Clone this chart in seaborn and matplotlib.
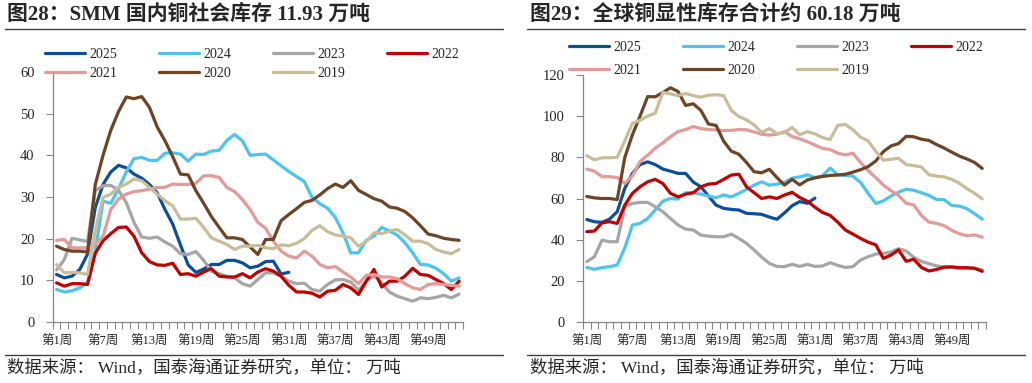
import numpy as np
import seaborn as sns
import matplotlib.pyplot as plt
from matplotlib.lines import Line2D

years = ['2025', '2024', '2023', '2022', '2021', '2020', '2019']
colors = ['#0b4f9c', '#4dc3f0', '#a6a6a6', '#c00000', '#e39a98', '#6e4424', '#c9bd99']
week_ticks = [1, 7, 13, 19, 25, 31, 37, 43, 49]
week_labels = ['第%d周' % w for w in week_ticks]

# 图28 SMM 国内铜社会库存 (万吨, 按周)
smm_2025 = [11.4, 10.6, 11.0, 12.6, 16.3, 27.5, 33.0, 36.0, 37.6, 37.0, 35.5, 34.5, 33.0, 31.0, 27.0,
            23.5, 18.5, 13.7, 11.9, 12.7, 13.8, 13.8, 14.8, 14.8, 14.2, 13.0, 13.4, 14.5, 14.6, 11.5, 11.93]
smm_2024 = [7.8, 7.2, 7.5, 8.2, 9.5, 17.0, 29.0, 28.5, 32.0, 36.0, 39.2, 39.5, 38.8, 38.8, 40.5, 40.6,
            40.3, 38.6, 40.3, 40.2, 41.0, 41.2, 43.6, 45.0, 43.5, 40.0, 40.2, 40.3, 38.9, 37.5, 36.1, 34.9,
            33.7, 29.9, 28.4, 27.3, 25.1, 21.4, 16.6, 16.6, 19.6, 20.6, 22.7, 21.8, 20.9, 19.0, 16.6, 13.8,
            13.7, 12.9, 11.6, 9.8, 10.6]
smm_2023 = [12.5, 15.0, 20.1, 19.7, 19.3, 31.5, 32.7, 32.8, 31.6, 28.7, 23.9, 20.4, 20.1, 20.4, 19.2,
            18.2, 16.4, 16.2, 16.9, 14.8, 12.2, 11.6, 11.0, 10.6, 9.2, 8.6, 10.2, 11.8, 11.8, 11.0, 9.8,
            9.2, 9.3, 7.8, 7.4, 9.0, 10.1, 10.2, 9.6, 7.6, 9.8, 11.0, 9.4, 7.2, 6.2, 5.6, 5.0, 5.8, 5.6,
            5.9, 6.4, 5.8, 6.7]
smm_2022 = [9.4, 8.6, 9.2, 9.2, 9.0, 16.5, 19.5, 21.2, 22.7, 22.8, 20.6, 16.6, 14.5, 13.7, 13.6, 14.1,
            11.4, 11.6, 11.0, 12.0, 12.8, 11.0, 10.8, 10.8, 11.6, 10.6, 12.0, 12.8, 12.2, 11.0, 8.8, 7.2,
            7.2, 6.9, 6.0, 7.4, 7.6, 9.0, 8.2, 6.6, 9.8, 12.6, 8.4, 9.8, 9.8, 11.0, 12.9, 11.4, 11.2, 10.2,
            9.2, 7.8, 9.8]
smm_2021 = [19.6, 19.8, 17.8, 17.8, 17.8, 18.6, 20.5, 27.0, 29.5, 30.7, 31.3, 31.5, 31.9, 32.3, 32.3,
            33.1, 33.0, 33.0, 33.3, 35.1, 35.1, 34.7, 32.3, 31.3, 29.4, 27.0, 23.9, 22.5, 19.4, 17.0, 15.8,
            15.4, 17.0, 15.8, 13.8, 13.0, 13.3, 12.0, 10.8, 9.2, 11.2, 11.4, 10.8, 10.8, 10.4, 9.2, 8.2,
            7.8, 9.0, 9.2, 9.0, 8.8, 8.6]
smm_2020 = [18.2, 17.4, 17.0, 17.0, 16.8, 33.0, 40.0, 46.0, 50.5, 54.0, 53.6, 54.1, 51.5, 46.8, 43.5,
            39.7, 35.5, 35.3, 31.5, 28.5, 25.3, 22.7, 20.2, 20.2, 19.8, 18.0, 16.2, 19.8, 19.8, 24.3, 25.8,
            27.2, 28.7, 29.2, 30.5, 32.0, 33.1, 32.3, 33.9, 31.6, 30.6, 29.6, 29.0, 27.6, 27.3, 26.5, 25.0,
            23.1, 21.1, 20.7, 20.1, 19.8, 19.6]
smm_2019 = [13.8, 11.8, 11.9, 11.8, 11.4, 22.0, 29.9, 30.7, 32.3, 33.1, 34.3, 33.9, 32.3, 30.7, 29.1,
            27.9, 24.7, 24.7, 24.9, 22.7, 20.2, 19.4, 18.6, 17.4, 18.2, 18.2, 18.4, 17.8, 17.6, 18.5, 18.3,
            18.9, 20.0, 22.0, 23.1, 21.7, 20.9, 20.6, 20.2, 18.2, 19.3, 21.4, 21.2, 21.8, 22.2, 20.9, 19.4,
            19.4, 18.8, 17.4, 16.8, 16.4, 17.4]

# 图29 全球铜显性库存合计 (万吨, 按周)
gl_2025 = [49.8, 48.7, 48.4, 50.0, 53.6, 65.0, 72.2, 76.5, 77.8, 76.5, 74.3, 73.3, 72.2, 72.2, 68.0,
           65.7, 61.2, 56.8, 55.2, 54.7, 54.4, 52.8, 52.6, 52.3, 51.0, 49.9, 53.0, 56.5, 58.5, 57.7, 60.18]
gl_2024 = [26.5, 25.6, 26.4, 26.9, 27.7, 36.0, 47.1, 47.9, 50.3, 54.4, 58.7, 60.0, 59.7, 62.8, 62.8,
           62.1, 61.2, 60.4, 61.7, 60.8, 62.5, 64.4, 66.5, 68.1, 66.5, 67.0, 67.8, 69.9, 70.5, 71.5, 70.2,
           71.0, 74.8, 71.5, 71.2, 70.9, 67.8, 62.5, 57.6, 58.8, 61.2, 63.1, 64.5, 64.0, 62.8, 61.5, 59.5,
           59.4, 56.6, 56.3, 55.0, 52.6, 50.0]
gl_2023 = [29.3, 31.7, 39.8, 39.0, 39.0, 56.0, 57.6, 58.1, 58.1, 56.0, 53.6, 50.3, 47.1, 45.1, 44.7,
           42.2, 41.7, 41.4, 41.4, 42.7, 40.6, 38.2, 35.0, 31.5, 28.5, 27.0, 26.9, 28.0, 27.0, 28.0, 27.0,
           27.2, 28.8, 27.5, 26.5, 26.9, 30.1, 31.7, 33.0, 33.3, 34.0, 35.6, 34.5, 31.4, 29.5, 28.3, 27.3,
           26.6, 26.5, 26.1, 26.1, 26.1, 25.3]
gl_2022 = [43.9, 44.2, 48.2, 48.7, 47.9, 56.8, 62.5, 65.7, 68.1, 69.3, 67.3, 62.5, 60.8, 62.1, 62.8,
           65.7, 67.0, 67.3, 69.3, 71.4, 71.8, 65.7, 62.8, 60.0, 60.8, 60.0, 61.7, 63.0, 60.5, 58.7, 55.8,
           53.2, 51.8, 48.5, 44.7, 42.7, 40.6, 38.8, 37.5, 30.9, 32.5, 35.0, 29.5, 30.5, 26.5, 24.8, 25.5,
           26.7, 26.8, 26.4, 26.4, 26.1, 24.6]
gl_2021 = [74.3, 73.3, 70.6, 70.6, 70.2, 67.3, 71.0, 78.0, 81.0, 84.5, 87.0, 90.0, 92.5, 93.5, 95.0,
           94.0, 93.5, 93.3, 93.0, 93.1, 93.5, 93.4, 92.3, 91.2, 90.8, 91.2, 92.5, 90.1, 89.0, 87.6, 86.0,
           84.3, 83.8, 82.0, 81.2, 82.0, 77.5, 73.5, 70.2, 66.5, 63.8, 61.5, 57.7, 56.9, 51.8, 48.5, 47.9,
           46.8, 44.5, 42.9, 41.9, 42.3, 41.2]
gl_2020 = [61.0, 60.3, 60.0, 60.0, 59.5, 80.0, 91.0, 100.0, 109.5, 109.4, 111.5, 113.8, 112.0, 105.2,
           106.0, 102.8, 96.2, 95.5, 87.8, 83.0, 81.5, 77.5, 73.0, 72.5, 74.2, 70.2, 66.5, 69.3, 66.6, 69.0,
           70.0, 70.7, 71.2, 71.4, 71.8, 72.8, 74.0, 75.5, 78.2, 82.8, 85.5, 86.7, 90.2, 90.0, 88.8, 88.2,
           86.2, 84.5, 82.5, 80.6, 79.2, 77.5, 74.6]
gl_2019 = [80.8, 78.8, 79.8, 79.8, 80.0, 88.0, 96.5, 98.0, 100.0, 101.5, 111.5, 110.8, 110.0, 111.0,
           110.0, 109.2, 110.2, 110.4, 110.0, 102.8, 99.8, 98.2, 95.8, 92.0, 94.0, 91.5, 92.0, 94.5, 91.0,
           92.5, 91.4, 89.6, 88.7, 95.5, 96.0, 93.4, 89.8, 88.0, 83.0, 78.6, 79.1, 79.5, 76.5, 76.0, 75.3,
           71.5, 70.9, 70.5, 69.3, 67.4, 64.8, 62.5, 59.8]

W, H = 1032, 383
sns.set_theme(style='ticks')
plt.rcParams['font.family'] = ['Liberation Serif', 'Noto Sans CJK SC']
plt.rcParams['axes.unicode_minus'] = False

fig = plt.figure(figsize=(W / 100, H / 100), dpi=100)


def px(x, y):
    # pixel position (from top-left) -> figure fraction
    return x / W, 1 - y / H


def draw(ax, series, ymax, ystep, leg_xy, leg_space):
    for year, color, vals in zip(years, colors, series):
        sns.lineplot(x=np.arange(1, len(vals) + 1), y=vals, color=color, linewidth=2.3,
                     label=year, ax=ax, solid_joinstyle='round', solid_capstyle='round')
    ax.set_xlim(0.5, 53.5)
    ax.set_ylim(0, ymax)
    ax.set_yticks(np.arange(0, ymax + 1, ystep))
    ax.set_xticks(week_ticks)
    ax.set_xticklabels(week_labels, fontsize=9)
    ax.set_xticks(np.arange(0.5, 54), minor=True)
    ax.tick_params(axis='x', which='major', length=0, pad=10)
    ax.tick_params(axis='x', which='minor', length=5, color='#868686', width=0.8)
    ax.tick_params(axis='y', length=5, color='#868686', width=0.8, labelsize=10.5, pad=8)
    ax.set_xlabel('')
    ax.set_ylabel('')
    sns.despine(ax=ax)
    for s in ['left', 'bottom']:
        ax.spines[s].set_color('#868686')
        ax.spines[s].set_linewidth(0.9)
    h, l = ax.get_legend_handles_labels()
    order = [0, 4, 1, 5, 2, 6, 3]  # row-wise: 2025 2024 2023 2022 / 2021 2020 2019
    ax.legend([h[i] for i in order], [l[i] for i in order], ncol=4, loc='upper left',
              bbox_to_anchor=px(*leg_xy), bbox_transform=fig.transFigure, frameon=False,
              fontsize=10, handlelength=2.9, handletextpad=0.3, columnspacing=3.0,
              labelspacing=leg_space, borderpad=0, borderaxespad=0)


ax1 = fig.add_axes([52.7 / W, 61 / H, 410.3 / W, 250 / H])
draw(ax1, [smm_2025, smm_2024, smm_2023, smm_2022, smm_2021, smm_2020, smm_2019],
     60, 10, (45, 48), 0.43)

ax2 = fig.add_axes([583 / W, 61 / H, 403 / W, 247 / H])
draw(ax2, [gl_2025, gl_2024, gl_2023, gl_2022, gl_2021, gl_2020, gl_2019],
     120, 20, (569, 41), 0.7)

fig.text(*px(7, 15), '图28：SMM 国内铜社会库存 11.93 万吨', fontsize=15, fontweight='bold', va='center')
fig.text(*px(530, 15), '图29：全球铜显性库存合计约 60.18 万吨', fontsize=15, fontweight='bold', va='center')
source = '数据来源： Wind，国泰海通证券研究，单位： 万吨'
fig.text(*px(7, 368), source, fontsize=12.5, va='center')
fig.text(*px(530, 368), source, fontsize=12.5, va='center')

for x0, x1 in [(5, 503), (527, 1025)]:
    for y in [29, 355]:
        fig.add_artist(Line2D([x0 / W, x1 / W], [1 - y / H, 1 - y / H], color='#404040', lw=1))

fig.savefig('out.png', dpi=100)
